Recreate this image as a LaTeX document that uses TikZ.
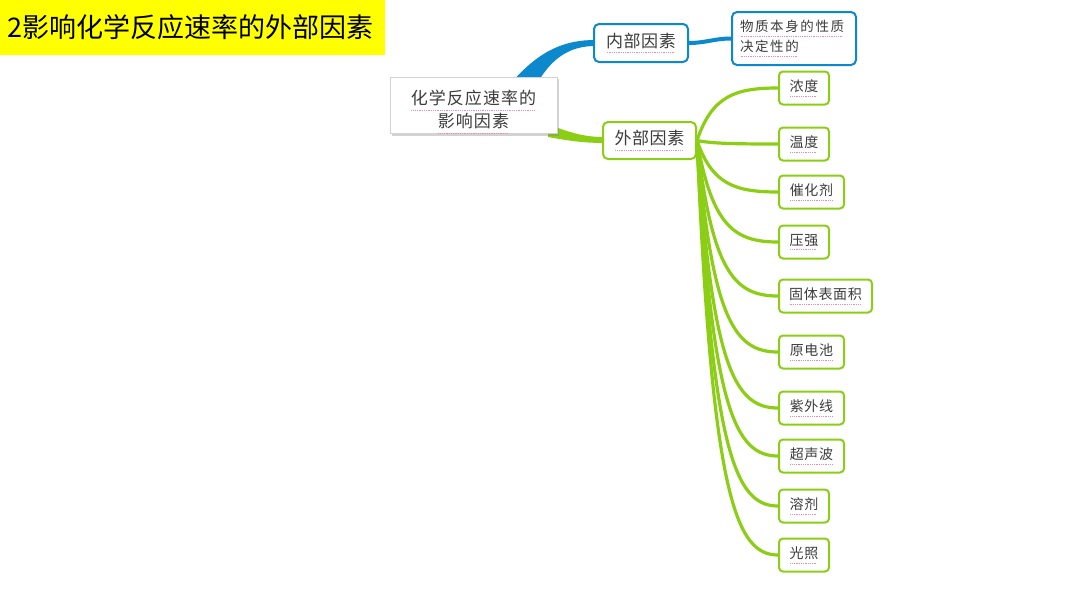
\documentclass[tikz,border=0pt]{standalone}
\usepackage{fontspec}
\setmainfont{Noto Sans CJK SC}
\usetikzlibrary{shadows,calc}
\definecolor{mblue}{RGB}{12,136,204}
\definecolor{mgreen}{RGB}{140,206,22}
\definecolor{ulpink}{RGB}{240,140,170}
\definecolor{txt}{RGB}{60,60,60}
\definecolor{ttlyellow}{RGB}{255,255,0}
\newcommand\dul[1]{\setbox0\hbox{#1}\leavevmode\rlap{\color{ulpink}\raisebox{-0.36em}{\hbox to \wd0{\leaders\hbox to 1.8pt{\hss\rule{0.8pt}{0.8pt}\hss}\hfill}}}\box0}
\begin{document}
\begin{tikzpicture}[x=1pt,y=-1pt,
  box/.style={line width=2pt, rounded corners=5pt, fill=white, inner sep=0pt, text=txt},
  bluebox/.style={box, draw=mblue},
  greenbox/.style={box, draw=mgreen},
  leaf/.style={greenbox, rounded corners=4pt, minimum height=33pt, anchor=west, font=\fontsize{14}{16}\selectfont\addfontfeature{LetterSpace=5}},
  gline/.style={draw=mgreen, line width=3.2pt},
  bline/.style={draw=mblue, line width=4pt}]
\useasboundingbox (0,0) rectangle (1066,600);
\fill[white] (0,0) rectangle (1066,600);
% title
\node[fill=ttlyellow, anchor=north west, minimum width=385pt, minimum height=55pt, inner xsep=7pt, inner ysep=0pt, text width=371pt, align=left, font=\fontsize{27}{30}\selectfont] (title) at (0,0) {2影响化学反应速率的外部因素};
% main tapered connectors
\fill[mblue] (512,82) .. controls (540,50) and (565,40) .. (595,40) -- (595,46) .. controls (570,46) and (552,58) .. (538,82) -- cycle;
\fill[mgreen] (548,124) .. controls (570,133) and (585,137) .. (604,137) -- (604,143) .. controls (585,143) and (570,141) .. (548,137) -- cycle;
% nodes
\node[draw=gray!35, fill=white, drop shadow={opacity=0.35, shadow xshift=2pt, shadow yshift=-2pt}, minimum width=167pt, minimum height=55pt, inner sep=0pt, align=center, text=txt, font=\fontsize{17}{23}\selectfont\addfontfeature{LetterSpace=6}] (cen) at (473.5,105.5) {\rule{0pt}{27pt}\dul{化学反应速率的}\\\dul{影响因素}};
\node[bluebox, minimum width=94pt, minimum height=38pt, font=\fontsize{17}{20}\selectfont\addfontfeature{LetterSpace=3}] (nei) at (641,43) {\dul{内部因素}};
\node[bluebox, minimum width=124pt, minimum height=53pt, inner xsep=8pt, text width=108pt, align=left, font=\fontsize{13.5}{20}\selectfont\addfontfeature{LetterSpace=12}] (wz) at (794,38.5) {\dul{物质本身的性质}\\\dul{决定性的}};
\node[greenbox, minimum width=93pt, minimum height=37pt, font=\fontsize{17}{20}\selectfont\addfontfeature{LetterSpace=3}] (wai) at (649.5,140.5) {\dul{外部因素}};
\draw[bline] (nei.east) to[out=0,in=180] (wz.west);
\foreach \n/\t/\w/\y in {a/浓度/50/88, b/温度/50/144, c/催化剂/65/192, d/压强/50/242, e/固体表面积/93/296, f/原电池/65/352, g/紫外线/65/408, h/超声波/65/456, i/溶剂/50/506, j/光照/50/555}{
  \pgfmathsetmacro\cy{141+(\y-141)*0.85}
  \node[leaf, minimum width=\w pt] (\n) at (778,\y) {\dul{\t}};
  \draw[gline] (wai.east) .. controls (712,\cy) and (735,\y) .. (\n.west);
}
\end{tikzpicture}
\end{document}
